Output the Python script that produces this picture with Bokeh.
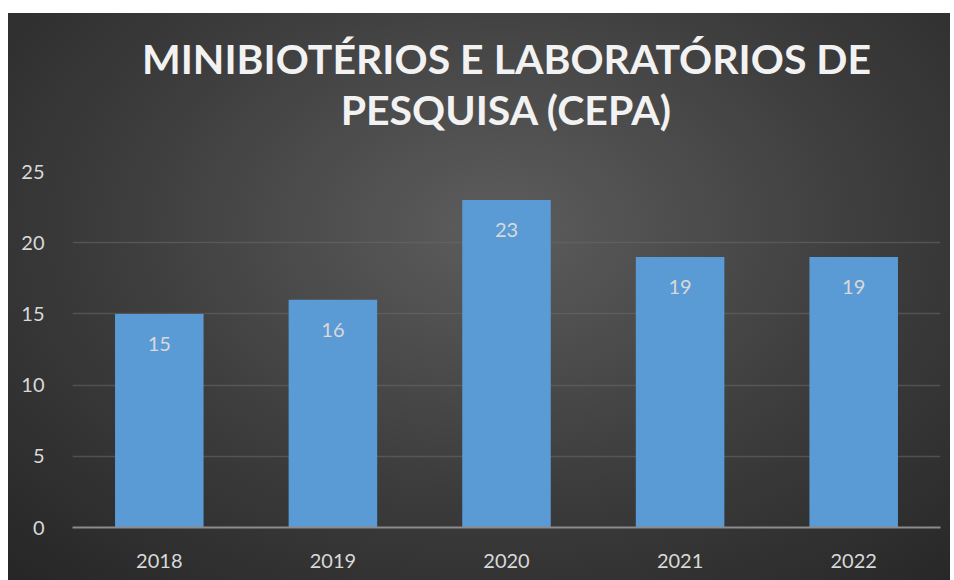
from bokeh.plotting import figure
from bokeh.models import ColumnDataSource, Range1d, Title
from bokeh.core.properties import value
from bokeh.embed import file_html
from bokeh.resources import INLINE

years = ["2018", "2019", "2020", "2021", "2022"]
counts = [15, 16, 23, 19, 19]
labels = [str(c) for c in counts]
title_lines = ["MINIBIOTÉRIOS E LABORATÓRIOS DE", "PESQUISA (CEPA)"]

FONT = "Lato"

src = ColumnDataSource(dict(x=years, top=counts, label=labels))

p = figure(
    x_range=years, y_range=Range1d(0, 25),
    width=942, height=567,
    output_backend="svg", toolbar_location=None,
    min_border_left=64, min_border_right=10,
    min_border_top=158, min_border_bottom=53,
    margin=(13, 0, 0, 8),
    title=None,
    styles={"background": "radial-gradient(ellipse 75% 85% at 52% 38%, #5d5d5d 0%, #3c3c3c 55%, #262626 100%)"},
)
p.background_fill_color = None
p.border_fill_color = None
p.outline_line_color = None

# spacer between the frame and the title block
p.add_layout(Title(text=" ", text_font_size="2px", standoff=34), "above")
for line in reversed(title_lines):
    t = Title(text=line, align="center", text_font=FONT, text_font_size="41px",
              text_font_style="bold", text_color="#f2f2f2", standoff=0)
    p.add_layout(t, "above")

p.vbar(x="x", top="top", width=0.51, source=src, fill_color="#5b9bd5", line_color=None)

p.text(x="x", y="top", text="label", source=src, y_offset=30,
       text_align="center", text_baseline="middle",
       text_color="#d9d9d9", text_font=value(FONT), text_font_size="20px")

p.xgrid.grid_line_color = None
p.ygrid.grid_line_color = "#6a6a6a"
p.ygrid.grid_line_alpha = 0.55
p.ygrid.grid_line_width = 1.5

p.yaxis.ticker = [0, 5, 10, 15, 20, 25]
p.yaxis.axis_line_color = None
p.yaxis.major_tick_line_color = None
p.yaxis.minor_tick_line_color = None
p.yaxis.major_label_text_color = "#d9d9d9"
p.yaxis.major_label_text_font = FONT
p.yaxis.major_label_text_font_size = "20px"
p.yaxis.major_label_standoff = 22

p.xaxis.axis_line_color = "#8c8c8c"
p.xaxis.axis_line_width = 2
p.xaxis.major_tick_line_color = None
p.xaxis.minor_tick_line_color = None
p.xaxis.major_label_text_color = "#d9d9d9"
p.xaxis.major_label_text_font = FONT
p.xaxis.major_label_text_font_size = "20px"
p.xaxis.major_label_standoff = 20

open("out.html", "w").write(file_html(p, INLINE))
